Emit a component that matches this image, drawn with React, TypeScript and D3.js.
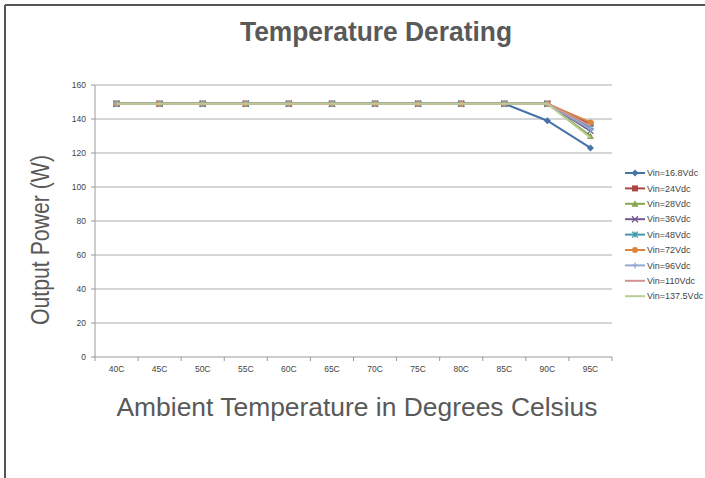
import React from "react";
import * as d3 from "d3";

const categories = ["40C", "45C", "50C", "55C", "60C", "65C", "70C", "75C", "80C", "85C", "90C", "95C"];
const yTicks = [0, 20, 40, 60, 80, 100, 120, 140, 160];

const seriesNames = ["Vin=16.8Vdc", "Vin=24Vdc", "Vin=28Vdc", "Vin=36Vdc", "Vin=48Vdc", "Vin=72Vdc", "Vin=96Vdc", "Vin=110Vdc", "Vin=137.5Vdc"];
const seriesColors = ["#4572A7", "#AA4643", "#89A54E", "#71588F", "#4198AF", "#DB843D", "#93A9CF", "#D19392", "#B9CD96"];
const seriesMarkers = ["diamond", "square", "triangle", "x", "star", "circle", "plus", "none", "none"];

const v168 = [149, 149, 149, 149, 149, 149, 149, 149, 149, 149, 139, 123];
const v24 = [149, 149, 149, 149, 149, 149, 149, 149, 149, 149, 149, 137];
const v28 = [149, 149, 149, 149, 149, 149, 149, 149, 149, 149, 149, 130];
const v36 = [149, 149, 149, 149, 149, 149, 149, 149, 149, 149, 149, 133];
const v48 = [149, 149, 149, 149, 149, 149, 149, 149, 149, 149, 149, 135];
const v72 = [149, 149, 149, 149, 149, 149, 149, 149, 149, 149, 149, 138];
const v96 = [149, 149, 149, 149, 149, 149, 149, 149, 149, 149, 149, 134];
const v110 = [149, 149, 149, 149, 149, 149, 149, 149, 149, 149, 149, 136];
const v1375 = [149, 149, 149, 149, 149, 149, 149, 149, 149, 149, 149, 129];
const seriesValues = [v168, v24, v28, v36, v48, v72, v96, v110, v1375];

function Marker({ type, x, y, color }: { type: string; x: number; y: number; color: string }) {
  const s = 3;
  switch (type) {
    case "diamond":
      return <path d={`M${x},${y - 3.5}L${x + 3.5},${y}L${x},${y + 3.5}L${x - 3.5},${y}Z`} fill={color} />;
    case "square":
      return <rect x={x - s} y={y - s} width={2 * s} height={2 * s} fill={color} />;
    case "triangle":
      return <path d={`M${x},${y - 3.5}L${x + 3.5},${y + 3}L${x - 3.5},${y + 3}Z`} fill={color} />;
    case "x":
      return <path d={`M${x - s},${y - s}L${x + s},${y + s}M${x - s},${y + s}L${x + s},${y - s}`} stroke={color} strokeWidth={1.3} />;
    case "star":
      return <path d={`M${x - s},${y - s}L${x + s},${y + s}M${x - s},${y + s}L${x + s},${y - s}M${x},${y - s}L${x},${y + s}`} stroke={color} strokeWidth={1.3} />;
    case "circle":
      return <circle cx={x} cy={y} r={3} fill={color} />;
    case "plus":
      return <path d={`M${x - s},${y}L${x + s},${y}M${x},${y - s}L${x},${y + s}`} stroke={color} strokeWidth={1.3} />;
    default:
      return null;
  }
}

export default function App() {
  const W = 705, H = 478;
  const x = d3.scaleBand<string>().domain(categories).range([95, 612]);
  const y = d3.scaleLinear().domain([0, 160]).range([357, 85]);
  const line = d3.line<number>().x((_, i) => (x(categories[i]) as number) + x.bandwidth() / 2).y((d) => y(d));
  const font = "'Liberation Sans', Arial, sans-serif";
  const order = [0, 1, 2, 3, 4, 5, 6, 7, 8];
  return (
    <svg width={W} height={H} style={{ position: "absolute", left: 0, top: 0, background: "#fff" }} fontFamily={font}>
      <rect x={0} y={0} width={W} height={H} fill="#fff" />
      <line x1={5} y1={5} x2={W} y2={5} stroke="#555" strokeWidth={2} />
      <line x1={5} y1={5} x2={5} y2={H} stroke="#555" strokeWidth={2} />
      <text x={376} y={41} textAnchor="middle" fontSize={27} fontWeight="bold" fill="#595959" textLength={272} lengthAdjust="spacingAndGlyphs">Temperature  Derating</text>
      {yTicks.map((t) => (
        <g key={t}>
          {t > 0 && <line x1={95} x2={612} y1={y(t)} y2={y(t)} stroke="#c8c8c8" strokeWidth={1.3} />}
          <line x1={91} x2={95} y1={y(t)} y2={y(t)} stroke="#999" />
          <text x={86} y={y(t) + 3} textAnchor="end" fontSize={8.5} fill="#444">{t}</text>
        </g>
      ))}
      <line x1={95} x2={95} y1={85} y2={357} stroke="#999" strokeWidth={1} />
      <line x1={95} x2={612} y1={357} y2={357} stroke="#999" strokeWidth={1} />
      {categories.map((c, i) => (
        <g key={c}>
          <line x1={(x(c) as number) + x.bandwidth()} x2={(x(c) as number) + x.bandwidth()} y1={357} y2={361} stroke="#999" />
          {i === 0 && <line x1={95} x2={95} y1={357} y2={361} stroke="#999" />}
          <text x={(x(c) as number) + x.bandwidth() / 2} y={372} textAnchor="middle" fontSize={8.5} fill="#444">{c}</text>
        </g>
      ))}
      {order.map((si) => (
        <g key={si}>
          <path d={line(seriesValues[si]) as string} fill="none" stroke={seriesColors[si]} strokeWidth={2} />
          {seriesValues[si].map((v, i) => (
            <Marker key={i} type={seriesMarkers[si]} x={(x(categories[i]) as number) + x.bandwidth() / 2} y={y(v)} color={seriesColors[si]} />
          ))}
        </g>
      ))}
      {seriesNames.map((n, i) => {
        const ly = 173 + i * 15.4;
        return (
          <g key={n}>
            <line x1={625} x2={645} y1={ly} y2={ly} stroke={seriesColors[i]} strokeWidth={2} />
            <Marker type={seriesMarkers[i]} x={635} y={ly} color={seriesColors[i]} />
            <text x={647} y={ly + 3.2} fontSize={9} fill="#444">{n}</text>
          </g>
        );
      })}
      <text transform="translate(49,240) rotate(-90)" textAnchor="middle" fontSize={25} fill="#595959" textLength={170} lengthAdjust="spacingAndGlyphs">Output Power (W)</text>
      <text x={357} y={416} textAnchor="middle" fontSize={26} fill="#595959" textLength={481} lengthAdjust="spacingAndGlyphs">Ambient Temperature in Degrees Celsius</text>
    </svg>
  );
}
